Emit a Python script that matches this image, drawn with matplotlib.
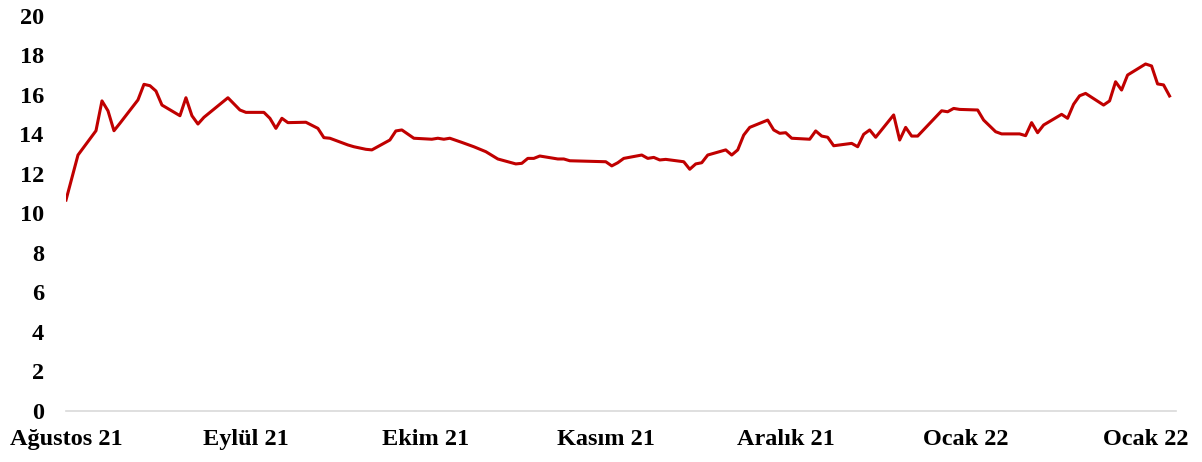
import matplotlib
matplotlib.use("Agg")
import matplotlib.pyplot as plt

# day offsets from start of series
gun = [0, 2, 5, 6, 7, 8, 9, 12, 13, 14, 15, 16, 19, 20, 21, 22, 23, 27, 29, 30,
       33, 34, 35, 36, 37, 40, 42, 43, 44, 47, 48, 50, 51, 54, 55, 56, 58, 61, 62, 63,
       64, 66, 68, 70, 72, 75, 76, 77, 78, 79, 82, 83, 84, 90, 91, 92, 93, 96, 97, 98,
       99, 100, 103, 104, 105, 106, 107, 110, 111, 112, 113, 114, 117, 118, 119, 120, 121, 124, 125, 126,
       127, 128, 131, 132, 133, 134, 135, 138, 139, 140, 141, 142, 146, 147, 148, 149, 152, 153, 155, 156,
       159, 160, 161, 162, 163, 166, 167, 168, 169, 170, 173, 174, 175, 176, 177, 180, 181, 182, 183, 184]
deger = [10.68, 12.96, 14.19, 15.70, 15.20, 14.19, 14.57, 15.75, 16.54, 16.47, 16.20, 15.49, 14.95, 15.86, 14.95, 14.53, 14.87, 15.86, 15.24, 15.12,
         15.12, 14.82, 14.31, 14.82, 14.60, 14.62, 14.31, 13.84, 13.81, 13.47, 13.38, 13.25, 13.22, 13.72, 14.18, 14.23, 13.81, 13.76, 13.81, 13.76,
         13.81, 13.60, 13.38, 13.13, 12.76, 12.51, 12.54, 12.79, 12.79, 12.91, 12.76, 12.76, 12.67, 12.62, 12.41, 12.57, 12.79, 12.96, 12.79, 12.84,
         12.71, 12.74, 12.62, 12.24, 12.51, 12.57, 12.96, 13.22, 12.96, 13.22, 13.97, 14.36, 14.73, 14.23, 14.06, 14.09, 13.81, 13.76, 14.18, 13.92,
         13.86, 13.43, 13.55, 13.38, 14.01, 14.23, 13.86, 14.99, 13.72, 14.36, 13.92, 13.92, 15.20, 15.15, 15.32, 15.27, 15.24, 14.73, 14.14, 14.03,
         14.03, 13.94, 14.60, 14.09, 14.48, 15.02, 14.82, 15.53, 15.96, 16.08, 15.49, 15.70, 16.67, 16.25, 17.01, 17.57, 17.47, 16.56, 16.51, 15.95]

tick_pos = [0, 30, 60, 90, 120, 150, 180]
tick_labels = ["Ağustos 21", "Eylül 21", "Ekim 21", "Kasım 21", "Aralık 21", "Ocak 22", "Ocak 22"]
y_ticks = list(range(0, 21, 2))

plt.rcParams['font.family'] = ['Liberation Serif', 'DejaVu Serif']
plt.rcParams['font.weight'] = 'bold'

fig = plt.figure(figsize=(12.02, 4.62), dpi=100)
ax = fig.add_axes([0.0549, 0.1104, 0.9231, 0.855])
ax.plot(gun, deger, color="#C00000", linewidth=2.2, solid_joinstyle='round')

ax.set_xlim(0, 185)
ax.set_ylim(0, 20)
ax.set_yticks(y_ticks)
ax.set_yticklabels([str(v) for v in y_ticks], fontsize=17.5, fontweight='bold')
ax.set_xticks(tick_pos)
ax.set_xticklabels(tick_labels, fontsize=17.5, fontweight='bold')
ax.tick_params(axis='both', length=0)
ax.tick_params(axis='y', pad=16)
ax.tick_params(axis='x', pad=13)
for s in ['top', 'right', 'left']:
    ax.spines[s].set_visible(False)
ax.spines['bottom'].set_color('#D9D9D9')
ax.spines['bottom'].set_linewidth(1.2)

fig.savefig("out.png", dpi=100)
